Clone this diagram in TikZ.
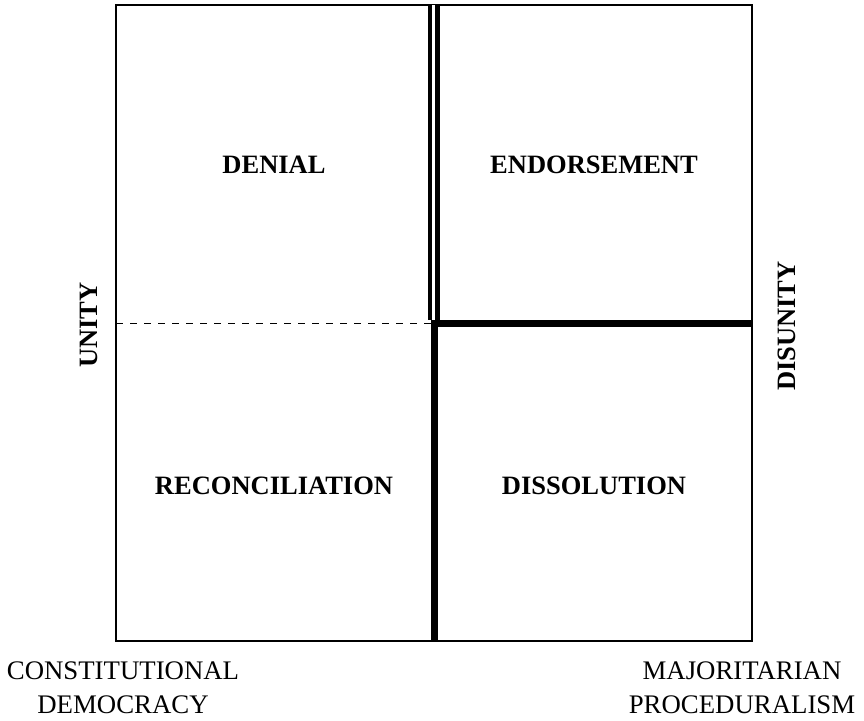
\documentclass[tikz,border=0pt]{standalone}
\usepackage{fontspec}
\setmainfont{Liberation Serif}
\begin{document}
\begin{tikzpicture}[x=1pt,y=-1pt,
  frame/.style={line width=1.3pt},
  quad/.style={font=\fontsize{26.5}{31}\selectfont\bfseries, anchor=base, inner sep=0pt},
  axis/.style={font=\fontsize{26.5}{31}\selectfont\bfseries, anchor=base, inner sep=0pt, rotate=90},
  pole/.style={font=\fontsize{26.8}{33.5}\selectfont, align=center, anchor=north, inner sep=0pt},
  thinsplit/.style={line width=4.6pt, double, double distance=3.2pt},
  thicksplit/.style={line width=7pt, line join=miter, line cap=butt},
  halfsplit/.style={line width=0.9pt, dash pattern=on 7pt off 7pt}]
\useasboundingbox (0,0) rectangle (864,720);

% outer square
\coordinate (tl) at (116,5);
\coordinate (br) at (752,641);
\draw[frame] (tl) rectangle (br);

% dividing lines
\coordinate (topmid) at (433.8,5);
\coordinate (centre) at (434.5,323.3);
\coordinate (rightmid) at (752,323.3);
\coordinate (botmid) at (434.5,641);
\coordinate (leftmid) at (116,323.3);
\coordinate (dashend) at (431,323.3);
\coordinate (dblend) at (433.8,320);
\draw[thinsplit] (topmid) -- (dblend);
\draw[halfsplit] (leftmid) -- (dashend);
\draw[thicksplit] (rightmid) -- (centre) -- (botmid);

% quadrant labels
\node[quad] (denial) at (274,173) {DENIAL};
\node[quad] (endorse) at (594,173) {ENDORSEMENT};
\node[quad] (recon) at (274,494) {RECONCILIATION};
\node[quad] (dissol) at (594,494) {DISSOLUTION};

% side labels
\node[axis] (unity) at (97,325) {UNITY};
\node[axis] (disunity) at (795,326) {DISUNITY};

% bottom labels
\node[pole] (constdem) at (123,662) {CONSTITUTIONAL\\DEMOCRACY};
\node[pole] (majproc) at (742,662) {MAJORITARIAN\\PROCEDURALISM};
\end{tikzpicture}
\end{document}
